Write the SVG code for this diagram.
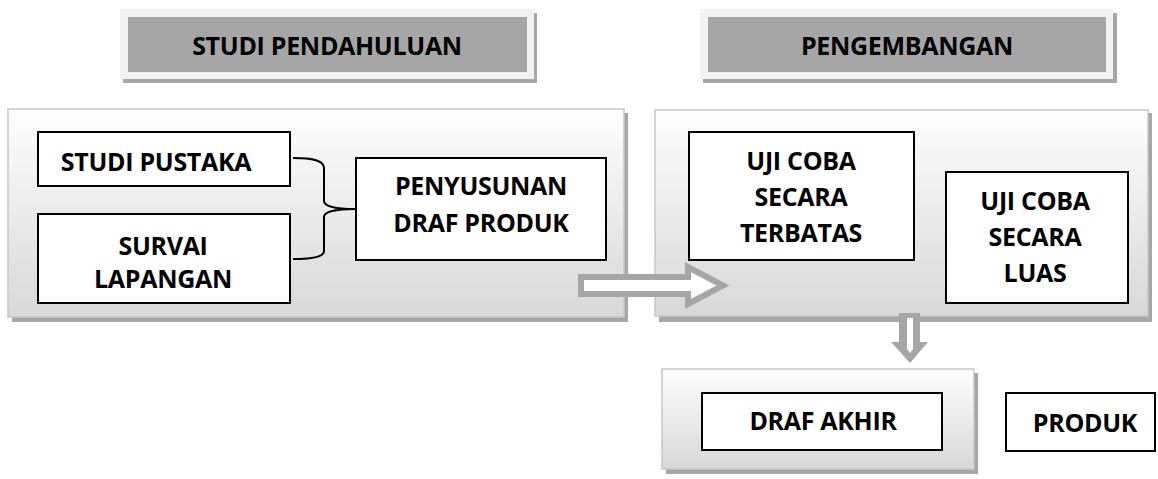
<svg xmlns="http://www.w3.org/2000/svg" width="1158" height="479" viewBox="0 0 1158 479">
<defs>
<linearGradient id="panelGrad" x1="0" y1="0" x2="0" y2="1">
<stop offset="0" stop-color="#fefefe"/>
<stop offset="1" stop-color="#d8d8d8"/>
</linearGradient>
<style>
.shadow{fill:#a6a6a6}
.panel{fill:url(#panelGrad);stroke:#c8c8c8;stroke-width:1.5}
.hframe{fill:#f2f2f2}
.hinner{fill:#a6a6a6}
.box{fill:#ffffff;stroke:#000000;stroke-width:2}
.t{font-family:"Open Sans","Liberation Sans",sans-serif;font-weight:bold;font-size:25px;letter-spacing:-0.3px;fill:#000000;text-anchor:middle}
.arrow{fill:#ffffff;stroke:#a6a6a6;stroke-width:6;stroke-linejoin:miter;stroke-miterlimit:10}
.agrey{fill:#a6a6a6}
.awhite{fill:#ffffff}
.brace{fill:none;stroke:#000000;stroke-width:2}
</style>
</defs>
<rect width="1158" height="479" fill="#ffffff"/>

<g id="header-studi">
<rect class="shadow" x="123" y="13" width="414" height="70"/>
<rect class="hframe" x="120" y="9" width="414" height="70"/>
<rect class="hinner" x="128" y="17" width="399" height="55"/>
<text class="t" x="327" y="55">STUDI PENDAHULUAN</text>
</g>

<g id="header-pengembangan">
<rect class="shadow" x="703" y="13" width="414" height="70"/>
<rect class="hframe" x="700" y="9" width="413" height="70"/>
<rect class="hinner" x="708" y="17" width="398" height="55"/>
<text class="t" x="907" y="55">PENGEMBANGAN</text>
</g>

<g id="panel-studi">
<rect class="shadow" x="12" y="113" width="616" height="209"/>
<rect class="panel" x="8" y="109" width="616" height="208"/>
</g>

<g id="panel-pengembangan">
<rect class="shadow" x="659" y="113" width="493" height="209"/>
<rect class="panel" x="655" y="110" width="493" height="206"/>
</g>

<g id="panel-akhir">
<rect class="shadow" x="666" y="373" width="312" height="101"/>
<rect class="panel" x="662" y="369" width="312" height="100"/>
</g>

<g id="studi-pustaka">
<rect class="box" x="38" y="132" width="252" height="54"/>
<text class="t" x="156" y="171">STUDI PUSTAKA</text>
</g>

<g id="survai-lapangan">
<rect class="box" x="38" y="214" width="252" height="89"/>
<text class="t" x="163" y="255">SURVAI</text>
<text class="t" x="163" y="288">LAPANGAN</text>
</g>

<g id="penyusunan">
<rect class="box" x="356" y="158" width="250" height="102"/>
<text class="t" x="481" y="195">PENYUSUNAN</text>
<text class="t" x="481" y="232">DRAF PRODUK</text>
</g>

<g id="uji-terbatas">
<rect class="box" x="689" y="132" width="225" height="128"/>
<text class="t" x="801" y="170">UJI COBA</text>
<text class="t" x="801" y="206">SECARA</text>
<text class="t" x="801" y="242">TERBATAS</text>
</g>

<g id="uji-luas">
<rect class="box" x="946" y="172" width="182" height="131"/>
<text class="t" x="1035" y="210">UJI COBA</text>
<text class="t" x="1035" y="246">SECARA</text>
<text class="t" x="1035" y="282">LUAS</text>
</g>

<g id="draf-akhir">
<rect class="box" x="702" y="393" width="240" height="57"/>
<text class="t" x="823" y="430">DRAF AKHIR</text>
</g>

<g id="produk">
<rect class="box" x="1006" y="393" width="149" height="58"/>
<text class="t" x="1085" y="432">PRODUK</text>
</g>

<g id="connectors">
<path class="brace" d="M293,158 C315,158 324,161 324,168 L324,201 C324,206 335,209 355,209 C335,209 324,212 324,217 L324,251 C324,256 315,259 293,259"/>
<polygon class="arrow" points="581,277 688,277 688,267 723,285.5 688,304 688,294 581,294"/>
<polygon class="agrey" points="899,313 920,313 920,342 928,342 910,363 891,342 899,342"/>
<polygon class="awhite" points="907,318 913,318 913,349 910,353 907,349"/>
</g>
</svg>
